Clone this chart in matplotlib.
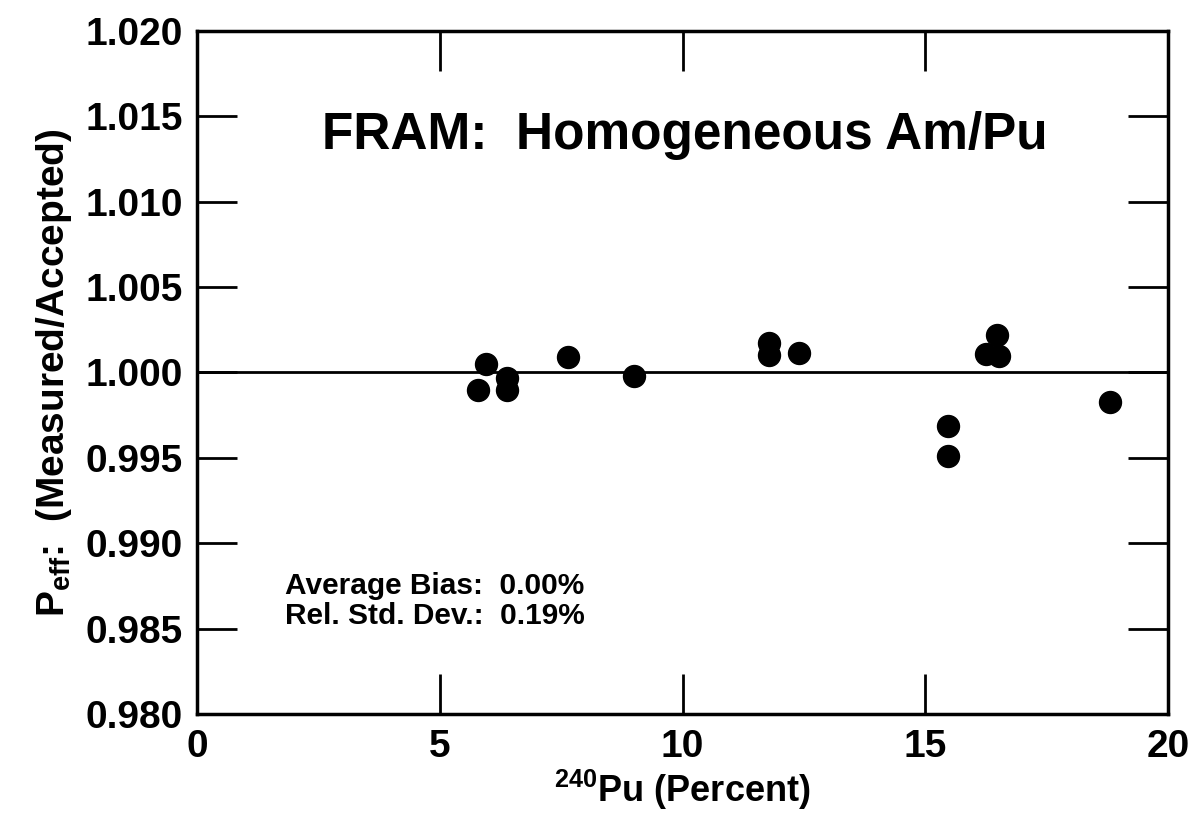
import matplotlib
matplotlib.use("Agg")
import matplotlib.pyplot as plt

plt.rcParams["font.family"] = ["Liberation Sans", "DejaVu Sans"]
plt.rcParams["font.weight"] = "bold"
plt.rcParams["mathtext.fontset"] = "custom"
plt.rcParams["mathtext.rm"] = "Liberation Sans:bold"
plt.rcParams["mathtext.bf"] = "Liberation Sans:bold"
plt.rcParams["mathtext.it"] = "Liberation Sans:bold"

# 240Pu percent vs measured/accepted ratio
pu240 = [5.79, 5.95, 6.38, 6.38, 7.64, 9.0, 11.78, 11.78, 12.4,
         15.47, 15.47, 16.25, 16.48, 16.52, 18.8]
peff_ratio = [0.99895, 1.00047, 0.99965, 0.99895, 1.00088, 0.99982, 1.00175,
              1.0010, 1.00117, 0.99684, 0.99509, 1.0011, 1.00222, 1.00094, 0.9983]

x_ticks = [0, 5, 10, 15, 20]
y_ticks = [0.980, 0.985, 0.990, 0.995, 1.000, 1.005, 1.010, 1.015, 1.020]
y_ticklabels = ["%.3f" % v for v in y_ticks]

fig = plt.figure(figsize=(11.91, 8.23), dpi=100)
ax = fig.add_axes([0.1654, 0.1325, 0.8153, 0.8298])

ax.axhline(1.000, color="black", lw=2)
ax.scatter(pu240, peff_ratio, s=250, color="black", zorder=3)

ax.set_xlim(0, 20)
ax.set_ylim(0.980, 1.020)
ax.set_xticks(x_ticks)
ax.set_xticklabels([str(t) for t in x_ticks])
ax.set_yticks(y_ticks)
ax.set_yticklabels(y_ticklabels)

ax.tick_params(axis="both", direction="in", length=29, width=2,
               top=True, right=True, labelsize=28)
ax.tick_params(axis="x", pad=11)
ax.tick_params(axis="y", pad=10)
for lab in ax.get_xticklabels() + ax.get_yticklabels():
    lab.set_fontweight("bold")
for sp in ax.spines.values():
    sp.set_linewidth(2.5)

ax.text(10.05, 1.0139, "FRAM:  Homogeneous Am/Pu", fontsize=37,
        fontweight="bold", ha="center", va="center")
ax.text(1.82, 0.98749, "Average Bias:  0.00%", fontsize=21.5,
        fontweight="bold", ha="left", va="center")
ax.text(1.82, 0.98573, "Rel. Std. Dev.:  0.19%", fontsize=21.5,
        fontweight="bold", ha="left", va="center")

ax.set_xlabel(r"$^{240}$Pu (Percent)", fontsize=26, fontweight="bold", labelpad=2)
ax.set_ylabel(r"$\mathbf{P_{eff}}$:  (Measured/Accepted)", fontsize=28,
              fontweight="bold", labelpad=8)

fig.savefig("out.png", dpi=100)
